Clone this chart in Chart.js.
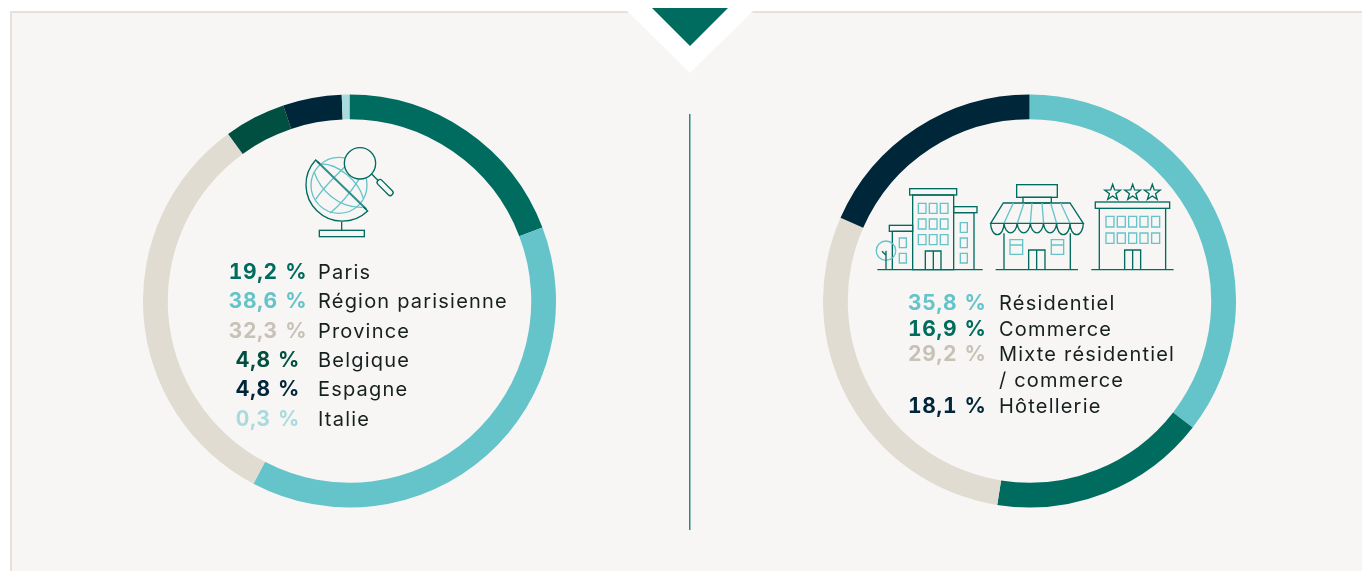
<!DOCTYPE html>
<html lang="fr">
<head>
<meta charset="utf-8">
<title>Répartition</title>
<script src="https://cdn.jsdelivr.net/npm/chart.js@4"></script>
<style>
html, body { margin: 0; padding: 0; background: #fff; }
body { position: relative; width: 1362px; height: 571px; overflow: hidden; font-family: Inter, sans-serif; }
#panel { position: absolute; left: 10px; top: 11px; width: 1400px; height: 600px; background: #f7f6f4; border: 2px solid #e6e2da; box-sizing: border-box; }
#deco { position: absolute; left: 0; top: 0; }
canvas { position: absolute; top: 94px; }
#chartGeo { left: 143px; }
#chartType { left: 823px; }
.num, .lab { position: absolute; white-space: nowrap; line-height: 26px; height: 26px; }
.num { font-weight: 700; font-size: 21px; letter-spacing: 0.7px; word-spacing: 1px; font-variant-numeric: tabular-nums; }
.lab { font-size: 20px; letter-spacing: 1.2px; color: #16201f; }
#deco .d { fill: none; stroke: #006b5f; stroke-width: 4; }
#deco .l { fill: none; stroke: #65c3ca; stroke-width: 4; }
</style>
</head>
<body>
<div id="panel"></div>

<svg id="deco" width="1362" height="571">
  <!-- encoche du haut -->
  <polygon points="626,10 754,10 690,73" fill="#fff" stroke="none"/>
  <rect x="600" y="0" width="180" height="11" fill="#fff"/>
  <polygon points="652,8 728,8 690,46" fill="#006b5f"/>
  <line x1="689.750" y1="114" x2="689.750" y2="530" stroke="#2a8a80" stroke-width="1.500"/>

  <!-- globe + loupe -->
  <g transform="translate(295,150) scale(0.3333)">
    <circle class="l" cx="132" cy="106" r="84"/>
    <path class="l" d="M57 65 C 75 120 130 175 203 172"/>
    <path class="l" d="M78 42 C 125 40 190 90 205 145"/>
    <path class="l" d="M155 45 C 125 75 90 105 62 148"/>
    <path class="l" d="M192 88 C 165 130 135 165 105 190"/>
    <line x1="66" y1="34" x2="214" y2="178" stroke="#2f8f8c" stroke-width="6"/>
    <path class="d" d="M75 42 L62 30 A 109.300 109.300 0 0 0 218 183 L205 170"/>
    <line class="d" x1="140" y1="215" x2="140" y2="241"/>
    <rect class="d" x="73" y="241" width="135" height="19"/>
    <circle class="d" cx="195" cy="40" r="47" style="fill:#f7f6f4"/>
    <line class="d" x1="230" y1="72" x2="250" y2="92"/>
    <rect class="d" x="240" y="104" width="60" height="17" rx="8" transform="rotate(45 270 113)"/>
  </g>

  <!-- immeubles -->
  <g transform="translate(860,170) scale(0.3333)">
    <line class="d" x1="52" y1="299" x2="368" y2="299"/>
    <rect class="d" x="158" y="75" width="123" height="224"/>
    <rect class="d" x="149" y="56" width="141" height="19"/>
    <path class="d" d="M281 128 H342 V299"/>
    <rect class="d" x="281" y="110" width="70" height="18"/>
    <path class="d" d="M158 184 H97 V299"/>
    <rect class="d" x="88" y="166" width="70" height="18"/>
    <path class="l" d="M175 100h23v30h-23z M208 100h23v30h-23z M241 100h23v30h-23z M175 147h23v30h-23z M208 147h23v30h-23z M241 147h23v30h-23z M175 194h23v30h-23z M208 194h23v30h-23z M241 194h23v30h-23z"/>
    <path class="l" d="M301 158h21v29h-21z M301 204h21v29h-21z M301 250h21v29h-21z M118 204h21v29h-21z M118 250h21v29h-21z"/>
    <path class="d" d="M196 299V243H243V299 M220 243V299"/>
    <circle class="l" cx="78" cy="242" r="29"/>
    <path class="d" d="M78 299V242 M78 256L66 244"/>

    <rect class="d" x="470" y="44" width="122" height="38"/>
    <rect class="d" x="489" y="82" width="85" height="17"/>
    <path class="d" d="M430 99H630L670 160H392Z"/>
    <path class="l" d="M460 99L432 160 M492 99L472 160 M516 99L511 160 M546 99L551 160 M572 99L590 160 M602 99L630 160"/>
    <path class="d" d="M392 160a20 34 0 0 0 40 0a20 34 0 0 0 39.500 0a20 34 0 0 0 39.500 0a20 34 0 0 0 39.500 0a20 34 0 0 0 39.500 0a20 34 0 0 0 40 0a20 34 0 0 0 40 0"/>
    <path class="d" d="M432 190V299 M631 190V299"/>
    <line class="d" x1="407" y1="299" x2="654" y2="299"/>
    <path class="d" d="M506 299V240H555V299 M530 240V299"/>
    <path class="l" d="M450 209h38v44h-38z M450 225h38 M574 209h37v44h-37z M574 225h37"/>

    <line class="d" x1="694" y1="299" x2="941" y2="299"/>
    <path class="d" d="M718 115V299 M917 115V299"/>
    <rect class="d" x="706" y="96" width="223" height="19"/>
    <path class="d" transform="translate(758,68)" d="M0-25L5.900-8.100L23.800-7.700L9.500 3.100L14.700 20.200L0 10L-14.700 20.200L-9.500 3.100L-23.800-7.700L-5.900-8.100Z"/>
    <path class="d" transform="translate(818,68)" d="M0-25L5.900-8.100L23.800-7.700L9.500 3.100L14.700 20.200L0 10L-14.700 20.200L-9.500 3.100L-23.800-7.700L-5.900-8.100Z"/>
    <path class="d" transform="translate(877,68)" d="M0-25L5.900-8.100L23.800-7.700L9.500 3.100L14.700 20.200L0 10L-14.700 20.200L-9.500 3.100L-23.800-7.700L-5.900-8.100Z"/>
    <path class="l" d="M738 139h24v32h-24z M772 139h24v32h-24z M806 139h24v32h-24z M840 139h24v32h-24z M875 139h24v32h-24z M738 189h24v31h-24z M772 189h24v31h-24z M806 189h24v31h-24z M840 189h24v31h-24z M875 189h24v31h-24z"/>
    <path class="d" d="M794 299V240H842V299 M818 240V299"/>
  </g>
</svg>

<canvas id="chartGeo" width="413" height="414"></canvas>
<canvas id="chartType" width="413" height="414"></canvas>

<script>
// Répartition géographique
var geoLabels = ['Paris', 'Région parisienne', 'Province', 'Belgique', 'Espagne', 'Italie'];
var geoValues = [19.2, 38.6, 32.3, 4.8, 4.8, 0.3]; // chiffres imprimés
var geoArcs = [19.2, 38.5, 32.3, 4.8, 4.6, 0.6]; // mesurés sur l'anneau, pas tout à fait les chiffres imprimés
var geoColors = ['#006b5f', '#65c3ca', '#e0dcd2', '#004f40', '#00263a', '#a9dadd'];
var geoTextColors = ['#006b5f', '#65c3ca', '#c8c1b6', '#004f40', '#00263a', '#a9dadd'];

// Répartition par type d'actif
var typeLabels = ['Résidentiel', 'Commerce', 'Mixte résidentiel', 'Hôtellerie'];
var typeValues = [35.8, 16.9, 29.2, 18.1];
var typeArcs = [35.5, 17.0, 29.1, 18.4];
var typeColors = ['#65c3ca', '#006b5f', '#e0dcd2', '#00263a'];
var typeTextColors = ['#65c3ca', '#006b5f', '#c8c1b6', '#00263a'];

function drawRing(id, labels, values, colors) {
    new Chart(document.getElementById(id).getContext('2d'), {
        type: 'doughnut',
        data: {
            labels: labels,
            datasets: [{
                data: values,
                backgroundColor: colors,
                borderWidth: 0
            }]
        },
        options: {
            responsive: false,
            animation: false,
            cutout: '88%',
            plugins: {
                legend: { display: false },
                tooltip: { enabled: false }
            }
        }
    });
}

function formatPct(v) {
    return v.toFixed(1).replace('.', ',') + ' %';
}

function addText(cls, text, left, top, color, width, align) {
    var el = document.createElement('div');
    el.className = cls;
    el.textContent = text;
    el.style.left = left + 'px';
    el.style.top = top + 'px';
    if (color) el.style.color = color;
    if (width) { el.style.width = width + 'px'; el.style.textAlign = align; }
    document.body.appendChild(el);
}

drawRing('chartGeo', geoLabels, geoArcs, geoColors);
drawRing('chartType', typeLabels, typeArcs, typeColors);

var geoTops = [259, 288, 318, 347, 376, 406];
geoLabels.forEach(function (lab, i) {
    addText('num', formatPct(geoValues[i]), 226, geoTops[i], geoTextColors[i], 84, 'center');
    addText('lab', lab, 318, geoTops[i], null);
});

var typeTops = [290, 316, 341, 393];
typeLabels.forEach(function (lab, i) {
    addText('num', formatPct(typeValues[i]), 908, typeTops[i], typeTextColors[i]);
    addText('lab', lab, 999, typeTops[i], null);
});
addText('lab', '/ commerce', 999, 367, null);
</script>
</body>
</html>
